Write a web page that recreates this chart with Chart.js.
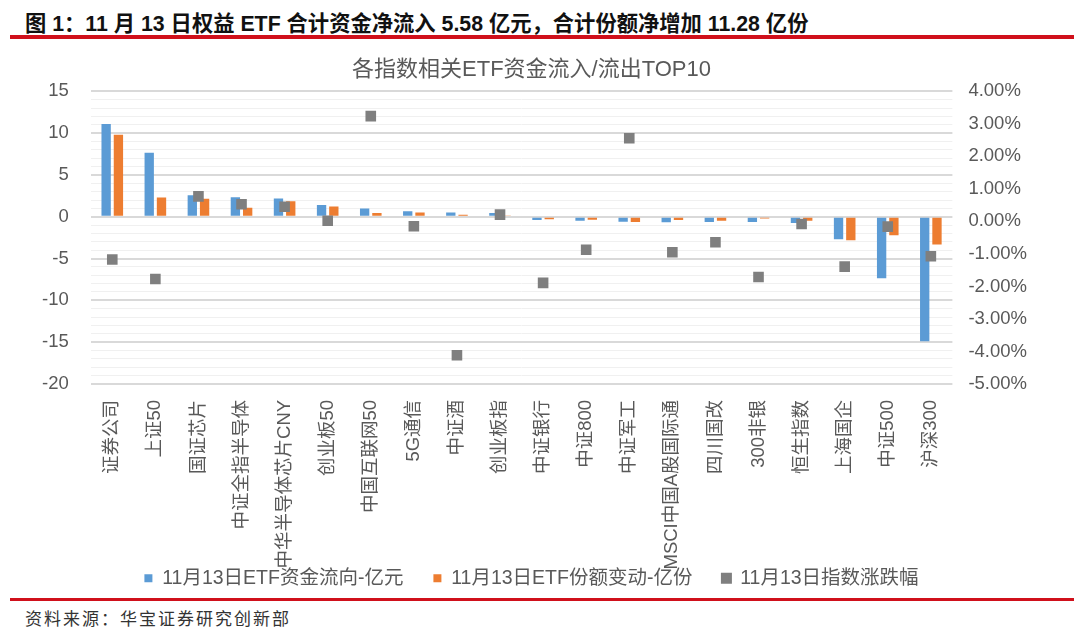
<!DOCTYPE html>
<html>
<head>
<meta charset="utf-8">
<script src="https://cdn.jsdelivr.net/npm/chart.js@4.4.0/dist/chart.umd.min.js"></script>
<style>
  body { margin: 0; width: 1080px; height: 636px; background: #fff; position: relative; overflow: hidden;
         font-family: "Liberation Sans", Arial, "Noto Sans CJK SC", sans-serif; }
  #head { position: absolute; left: 25px; top: 6px; font-size: 21.3px; font-weight: bold; color: #111; white-space: nowrap; }
  .redline { position: absolute; left: 10px; width: 1064px; background: #d0101b; }
  #src { position: absolute; left: 25px; top: 605px; font-size: 17px; letter-spacing: 2px; color: #333; white-space: nowrap; }
  #wrap { position: absolute; left: 0; top: 48px; width: 1080px; height: 550px; }
</style>
</head>
<body>
<div id="head">图 1：11 月 13 日权益 ETF 合计资金净流入 5.58 亿元，合计份额净增加 11.28 亿份</div>
<div class="redline" style="top:35px;height:4px;"></div>
<div id="wrap"><canvas id="chartCanvas"></canvas></div>
<div class="redline" style="top:598px;height:3px;"></div>
<div id="src">资料来源：华宝证券研究创新部</div>
<script>
  /********** DATI **********/
  const categories = ['证券公司', '上证50', '国证芯片', '中证全指半导体', '中华半导体芯片CNY', '创业板50',
    '中国互联网50', '5G通信', '中证酒', '创业板指', '中证银行', '中证800', '中证军工', 'MSCI中国A股国际通',
    '四川国改', '300非银', '恒生指数', '上海国企', '中证500', '沪深300'];
  // 资金流向 (亿元)
  const flowValues = [11.1, 7.66, 2.57, 2.33, 2.2, 1.42, 0.98, 0.67, 0.51, 0.44,
    -0.39, -0.47, -0.59, -0.67, -0.63, -0.63, -0.75, -2.69, -7.35, -14.9];
  // 份额变动 (亿份)
  const shareValues = [9.8, 2.29, 2.17, 1.07, 1.86, 1.22, 0.44, 0.51, 0.24, 0.16,
    -0.3, -0.35, -0.63, -0.39, -0.47, -0.2, -0.47, -2.8, -2.21, -3.32];
  // 指数涨跌幅 (%)
  const indexChange = [-1.17, -1.77, 0.77, 0.53, 0.45, 0.02, 3.24, -0.15, -4.12, 0.21,
    -1.89, -0.87, 2.56, -0.95, -0.64, -1.71, -0.08, -1.39, -0.16, -1.07];
  const seriesNames = ['11月13日ETF资金流向-亿元', '11月13日ETF份额变动-亿份', '11月13日指数涨跌幅'];

  const fontFamily = '"Liberation Sans", Arial, "Noto Sans CJK SC", sans-serif';
  const textGray = '#595959';
  const labelOverlap = 39; // quanto le etichette x invadono l'area della legenda

  // l'asse x resta corto nel layout ma le etichette non vengono tagliate
  const labelOverflow = {
    id: 'labelOverflow',
    afterLayout(chart) { chart.scales.x.bottom = chart.height; }
  };

  /********** CHART.JS **********/
  const ctx = document.getElementById('chartCanvas').getContext('2d');
  new Chart(ctx, {
    type: 'bar',
    data: {
      labels: categories,
      datasets: [
        { label: seriesNames[0], data: flowValues, backgroundColor: '#5b9bd5', yAxisID: 'y',
          order: 1, barPercentage: 0.76, categoryPercentage: 0.57 },
        { label: seriesNames[1], data: shareValues, backgroundColor: '#ed7d31', yAxisID: 'y',
          order: 1, barPercentage: 0.76, categoryPercentage: 0.57 },
        { type: 'line', label: seriesNames[2], data: indexChange, yAxisID: 'y1', order: 0,
          showLine: false, pointStyle: 'rect', pointRadius: 7.5, pointHoverRadius: 7.5,
          pointBorderWidth: 0, backgroundColor: '#7f7f7f', borderColor: '#7f7f7f' }
      ]
    },
    plugins: [labelOverflow],
    options: {
      responsive: true,
      maintainAspectRatio: false,
      animation: false,
      layout: { padding: { left: 20, right: 37, top: 0, bottom: 0 } },
      plugins: {
        title: {
          display: true,
          text: '各指数相关ETF资金流入/流出TOP10',
          color: textGray,
          font: { family: fontFamily, size: 22, weight: 'normal' },
          padding: { top: 9, bottom: 8 }
        },
        legend: {
          position: 'bottom',
          labels: {
            color: textGray,
            font: { family: fontFamily, size: 19.5 },
            boxWidth: 8, boxHeight: 8,
            padding: 30,
            // legenda nell'ordine dei dataset, non dell'ordine di disegno
            sort: (a, b) => a.datasetIndex - b.datasetIndex
          }
        },
        tooltip: { enabled: false }
      },
      scales: {
        x: {
          grid: { display: false },
          border: { display: false },
          ticks: {
            color: textGray, font: { family: fontFamily, size: 18.5 },
            autoSkip: false, minRotation: 90, maxRotation: 90, padding: 8
          },
          afterFit: scale => { scale.height -= labelOverlap; }
        },
        y: {
          position: 'left',
          min: -20, max: 15,
          border: { display: false },
          grid: {
            drawTicks: false,
            color: c => (c.tick.value % 5 === 0 ? '#d9d9d9' : '#f0f0f0'),
            lineWidth: c => (c.tick.value % 5 === 0 ? 2 : 1)
          },
          ticks: {
            stepSize: 1, autoSkip: false, padding: 22,
            color: textGray, font: { family: fontFamily, size: 18.5 },
            callback: v => (v % 5 === 0 ? v : '')
          }
        },
        y1: {
          position: 'right',
          min: -5, max: 4,
          border: { display: false },
          grid: { display: false, drawTicks: false },
          ticks: {
            stepSize: 1, padding: 16,
            color: textGray, font: { family: fontFamily, size: 18.5 },
            callback: v => v.toFixed(2) + '%'
          }
        }
      }
    }
  });
</script>
</body>
</html>
